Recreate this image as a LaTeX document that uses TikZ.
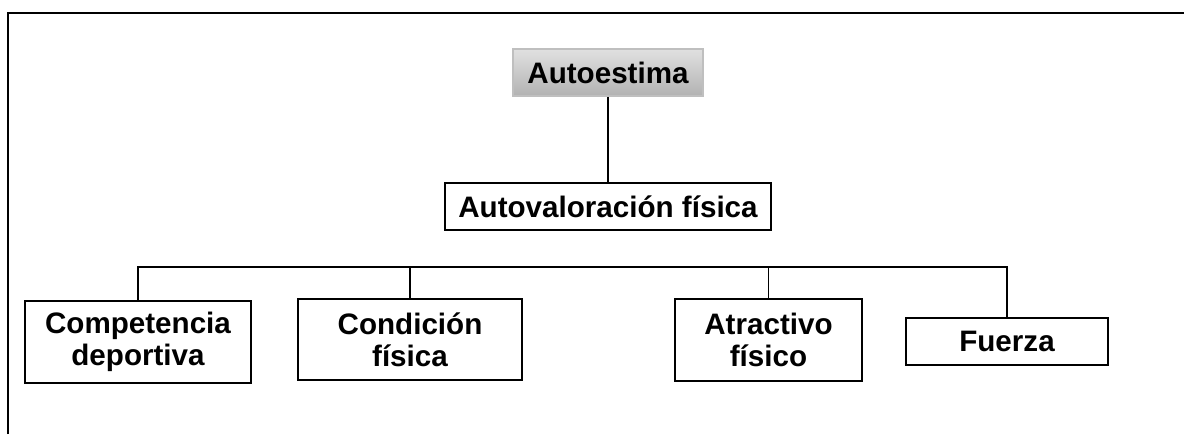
\documentclass[tikz,border=0pt]{standalone}
\usepackage{fontspec}
\setmainfont{Liberation Sans}
\usetikzlibrary{positioning}

\tikzset{
  box/.style={draw, line width=0.9pt, align=center, inner sep=0pt,
    font=\fontsize{14.8}{16.2}\selectfont\bfseries},
  topbox/.style={box, draw=black!25, top color=black!12, bottom color=black!30},
  link/.style={line width=0.75pt}
}

\begin{document}
\begin{tikzpicture}[x=0.5pt,y=-0.5pt,node distance=67pt,on grid]
   \useasboundingbox (0,0) rectangle (1184,434);
   \draw[line width=1.3pt] (8,434) -- (8,13) -- (1184,13);
   \node[topbox, minimum width=95pt, minimum height=23.5pt] (autoestima) at (608,72.5) {Autoestima};
   \node[box, minimum width=163pt, minimum height=23.5pt] (fisica) [below=of autoestima] {Autovaloración física};
   \node[box, minimum width=113pt, minimum height=41pt] (comp) at (138,342) {Competencia\\deportiva};
   \node[box, minimum width=112pt, minimum height=40.5pt] (cond) at (410,339.5) {Condición\\física};
   \node[box, minimum width=93.5pt, minimum height=41pt] (atract) at (768.5,340) {Atractivo\\físico};
   \node[box, minimum width=101pt, minimum height=23.5pt] (fuerza) at (1007,341.5) {Fuerza};
   \coordinate (bar) at (608,267);
   \draw[link] (autoestima) -- (fisica);
   \draw[link] (comp.north) |- (fuerza.north |- bar) -- (fuerza.north);
   \draw[link] (cond.north) -- (cond.north |- bar);
   \draw[link] (atract.north) -- (atract.north |- bar);
\end{tikzpicture}
\end{document}
